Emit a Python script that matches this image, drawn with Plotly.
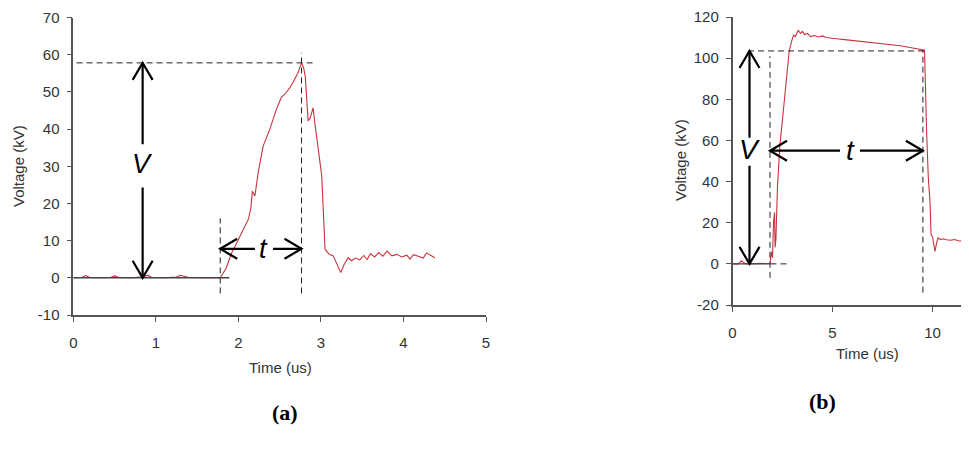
import plotly.graph_objects as go

# window is 969x451; the page body has an 8px margin, so the figure is offset
WIN_W, WIN_H = 969, 451
OX, OY = 8, 8
W, H = WIN_W - OX, WIN_H - OY

# ---------------- data ----------------
# Panel (a)
ta = [0, 0.1, 0.15, 0.2, 0.3, 0.45, 0.5, 0.55, 0.7, 0.85, 0.9, 0.95, 1.1, 1.25, 1.3, 1.35,
      1.4, 1.6, 1.78, 1.85, 1.92, 1.96, 2.0, 2.06, 2.12, 2.15, 2.17, 2.2, 2.24, 2.30, 2.38,
      2.46, 2.52, 2.56, 2.62, 2.66, 2.72, 2.765, 2.79, 2.81, 2.845, 2.87, 2.905, 2.93, 2.95,
      3.01, 3.05, 3.10, 3.15, 3.20, 3.24, 3.28, 3.33, 3.37, 3.42, 3.47, 3.52, 3.56, 3.60,
      3.65, 3.70, 3.75, 3.80, 3.86, 3.92, 3.98, 4.04, 4.08, 4.12, 4.18, 4.24, 4.28, 4.33, 4.38]
Va = [0, 0.1, 0.6, 0.1, 0, 0.1, 0.5, 0.1, 0, 0.3, 0.7, 0.1, 0, 0.2, 0.7, 0.3,
      0.1, 0, 0, 2.5, 6.8, 8.5, 10.3, 13, 15.7, 18.5, 23.3, 22, 28.3, 35.4, 39.9,
      45.3, 48.5, 49.3, 51, 52.5, 55, 57.8, 56.5, 54.2, 42.2, 43, 45.7, 41, 37.2,
      27.4, 7.7, 6.3, 5.9, 3.5, 1.4, 3.5, 5.4, 4.6, 5.3, 4.8, 6.0, 4.9, 6.5,
      5.6, 6.8, 5.8, 7.2, 5.9, 6.3, 5.6, 6.1, 5.0, 6.2, 5.8, 5.3, 6.7, 6.1, 5.4]

# Panel (b)
tb = [0, 0.3, 0.45, 0.55, 0.7, 1.0, 1.5, 1.88, 1.95, 2.0, 2.05, 2.1, 2.13, 2.17, 2.25,
      2.375, 2.54, 2.71, 2.83, 2.95, 3.05, 3.15, 3.28, 3.4, 3.5, 3.6, 3.75, 3.9, 4.1,
      4.3, 4.5, 4.7, 5.0, 5.3, 5.6, 6.0, 6.4, 6.8, 7.2, 7.6, 8.0, 8.4, 8.8, 9.2, 9.5,
      9.6, 9.71, 9.79, 9.875, 9.93, 10.0, 10.06, 10.125, 10.2, 10.28, 10.4, 10.55, 10.7,
      10.9, 11.1, 11.3, 11.5, 11.7, 11.9]
Vb = [0, 0, 1.5, 0.5, 0, 0, 0, 0.3, 6, 3, 20, 25, 8, 12, 38,
      58.2, 74.2, 90.3, 103, 108, 111.2, 110.5, 113.6, 112, 113, 111.5, 112, 110.5, 111,
      110.3, 110.8, 110.0, 109.8, 109.3, 109.0, 108.6, 108.2, 107.8, 107.4, 107.0, 106.6, 106.0, 105.3, 104.7, 104.2,
      103.8, 63, 42, 30, 14, 13.2, 9, 6, 10, 12.7, 11.8, 12.2, 11.7,
      11.5, 11.8, 11.2, 11.0, 10.8, 10.6]

# annotation values
a_t_start, a_t_peak, a_V_peak = 1.78, 2.765, 57.8
a_V_arrow_t, a_t_arrow_V = 0.84, 7.8
b_t_start, b_t_end, b_V_level = 1.875, 9.52, 103.5
b_V_arrow_t, b_t_arrow_V = 0.85, 55.0

xa_ticks = [0, 1, 2, 3, 4, 5]
ya_ticks = [-10, 0, 10, 20, 30, 40, 50, 60, 70]
xb_ticks = [0, 5, 10]
yb_ticks = [-20, 0, 20, 40, 60, 80, 100, 120]

# ---------------- layout geometry (window pixels -> paper) ----------------
def px(x):
    return (x - OX) / W

def py(y):
    return 1 - (y - OY) / H

xa_dom = [px(73.3), px(486)]
ya_dom = [py(315), py(17.5)]
xa_rng = [0, 5]
ya_rng = [-10, 70]
xb_dom = [px(732.5), 1.0]
yb_dom = [py(305), py(17)]
xb_rng = [0, (WIN_W - 732.5) / 20.0]
yb_rng = [-20, 120]

def scale(dom, rng, total):
    return (dom[1] - dom[0]) * total / (rng[1] - rng[0])

sxa, sya = scale(xa_dom, xa_rng, W), scale(ya_dom, ya_rng, H)
sxb, syb = scale(xb_dom, xb_rng, W), scale(yb_dom, yb_rng, H)

FONT = "Liberation Sans, Arial, sans-serif"
SERIF = "Liberation Serif, Times New Roman, serif"
RED = "#c8323c"

fig = go.Figure()
fig.add_trace(go.Scatter(x=ta, y=Va, xaxis="x", yaxis="y", mode="lines",
                         line=dict(color=RED, width=1.1), hoverinfo="skip"))
fig.add_trace(go.Scatter(x=tb, y=Vb, xaxis="x2", yaxis="y2", mode="lines",
                         line=dict(color=RED, width=1.1), hoverinfo="skip"))

shapes = []

def line(ref, x0, y0, x1, y1, dash=None, width=1.0, color="#222"):
    d = dict(color=color, width=width)
    if dash:
        d["dash"] = dash
    shapes.append(dict(type="line", xref="x" + ref, yref="y" + ref,
                       x0=x0, y0=y0, x1=x1, y1=y1, line=d, layer="above"))

def chevron(ref, x, y, direction, sx, sy, L=17, hw=10):
    # open arrow head with tip at (x, y)
    if direction == "up":
        pts = [(x - hw / sx, y - L / sy), (x, y), (x + hw / sx, y - L / sy)]
    elif direction == "down":
        pts = [(x - hw / sx, y + L / sy), (x, y), (x + hw / sx, y + L / sy)]
    elif direction == "left":
        pts = [(x + L / sx, y + hw / sy), (x, y), (x + L / sx, y - hw / sy)]
    else:
        pts = [(x - L / sx, y + hw / sy), (x, y), (x - L / sx, y - hw / sy)]
    path = "M{} {} L{} {} L{} {}".format(*[c for p in pts for c in p])
    shapes.append(dict(type="path", xref="x" + ref, yref="y" + ref, path=path,
                       line=dict(color="black", width=2.2), layer="above"))

DASH = "6px,4px"
# ---- panel (a) ----
line("", 0.04, a_V_peak, 2.9, a_V_peak, dash=DASH)
line("", a_t_start, -4.2, a_t_start, 16, dash=DASH)
line("", a_t_peak, -4.2, a_t_peak, 60.5, dash=DASH)
line("", 0, 0, 1.89, 0, width=1.4, color="#444")
# V arrow
line("", a_V_arrow_t, 0, a_V_arrow_t, 24.3, width=2.2, color="black")
line("", a_V_arrow_t, 35.9, a_V_arrow_t, a_V_peak, width=2.2, color="black")
chevron("", a_V_arrow_t, a_V_peak, "up", sxa, sya)
chevron("", a_V_arrow_t, 0, "down", sxa, sya)
# t arrow
line("", a_t_start, a_t_arrow_V, 2.2, a_t_arrow_V, width=2.2, color="black")
line("", 2.42, a_t_arrow_V, a_t_peak, a_t_arrow_V, width=2.2, color="black")
chevron("", a_t_start, a_t_arrow_V, "left", sxa, sya)
chevron("", a_t_peak, a_t_arrow_V, "right", sxa, sya)

# ---- panel (b) ----
line("2", 0.78, b_V_level, 9.6, b_V_level, dash=DASH)
line("2", b_t_start, -6.8, b_t_start, 101, dash=DASH)
line("2", b_t_end, -14, b_t_end, 104, dash=DASH)
line("2", 1.9, 0, 2.78, 0, dash=DASH)
line("2", 0, 0, 1.9, 0, width=1.4, color="#444")
line("2", b_V_arrow_t, 0, b_V_arrow_t, 47.7, width=2.2, color="black")
line("2", b_V_arrow_t, 61.3, b_V_arrow_t, b_V_level, width=2.2, color="black")
chevron("2", b_V_arrow_t, b_V_level, "up", sxb, syb)
chevron("2", b_V_arrow_t, 0, "down", sxb, syb)
line("2", b_t_start, b_t_arrow_V, 5.375, b_t_arrow_V, width=2.2, color="black")
line("2", 6.375, b_t_arrow_V, b_t_end, b_t_arrow_V, width=2.2, color="black")
chevron("2", b_t_start, b_t_arrow_V, "left", sxb, syb)
chevron("2", b_t_end, b_t_arrow_V, "right", sxb, syb)

def note(xref, yref, x, y, text, size, family=FONT, color="black", angle=0):
    return dict(xref=xref, yref=yref, x=x, y=y, text=text, showarrow=False,
                xanchor="center", yanchor="middle", textangle=angle,
                font=dict(family=family, size=size, color=color))

annotations = [
    note("x", "y", a_V_arrow_t, 30.5, "<i>V</i>", 27),
    note("x", "y", 2.31, a_t_arrow_V, "<i>t</i>", 27),
    note("x2", "y2", b_V_arrow_t, 55.4, "<i>V</i>", 28),
    note("x2", "y2", 5.9, b_t_arrow_V, "<i>t</i>", 28),
    # axis titles
    note("paper", "paper", px(280), py(367), "Time (us)", 15, color="#333"),
    note("paper", "paper", px(867), py(353.5), "Time (us)", 15, color="#333"),
    note("paper", "paper", px(18), py(166), "Voltage (kV)", 15, color="#333", angle=-90),
    note("paper", "paper", px(680), py(160), "Voltage (kV)", 15, color="#333", angle=-90),
    # panel labels
    note("paper", "paper", px(285), py(412), "<b>(a)</b>", 22, family=SERIF),
    note("paper", "paper", px(822), py(401), "<b>(b)</b>", 22, family=SERIF),
]

axis_common = dict(showline=True, linecolor="#555", linewidth=1.5, ticks="outside",
                   ticklen=5, tickcolor="#555", tickwidth=1.2, showgrid=False,
                   zeroline=False, tickfont=dict(family=FONT, size=15, color="#333"),
                   fixedrange=True, automargin=False, ticklabeloverflow="allow")

fig.update_layout(
    width=W, height=H, margin=dict(l=0, r=0, t=0, b=0),
    paper_bgcolor="white", plot_bgcolor="white", showlegend=False,
    xaxis=dict(domain=xa_dom, range=xa_rng, anchor="y", tickvals=xa_ticks,
               ticktext=[str(v) for v in xa_ticks], ticklabelstandoff=8, **axis_common),
    yaxis=dict(domain=ya_dom, range=ya_rng, anchor="x", tickvals=ya_ticks,
               ticktext=[str(v) for v in ya_ticks], ticklabelstandoff=4, **axis_common),
    xaxis2=dict(domain=xb_dom, range=xb_rng, anchor="y2", tickvals=xb_ticks,
                ticktext=[str(v) for v in xb_ticks], ticklabelstandoff=8, **axis_common),
    yaxis2=dict(domain=yb_dom, range=yb_rng, anchor="x2", tickvals=yb_ticks,
                ticktext=[str(v) for v in yb_ticks], ticklabelstandoff=4, **axis_common),
    shapes=shapes, annotations=annotations,
)

fig.write_html("out.html")
